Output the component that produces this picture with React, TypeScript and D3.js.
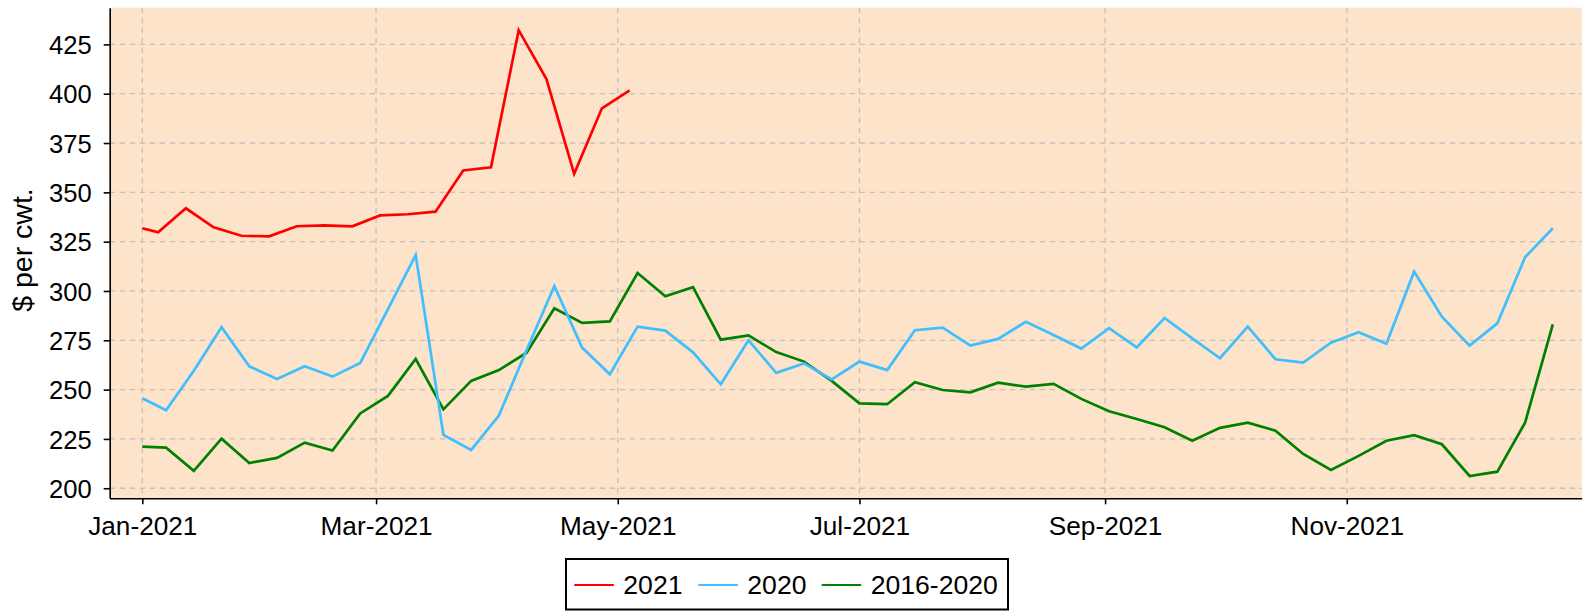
import React, { useEffect, useRef } from "react";
import * as d3 from "d3";

// weekly prices, $ per cwt.
const dates2021: string[] = [
  "2021-01-01", "2021-01-05", "2021-01-12", "2021-01-19", "2021-01-26",
  "2021-02-02", "2021-02-09", "2021-02-16", "2021-02-23", "2021-03-02",
  "2021-03-09", "2021-03-16", "2021-03-23", "2021-03-30", "2021-04-06",
  "2021-04-13", "2021-04-20", "2021-04-27", "2021-05-04",
];
const values2021: number[] = [
  331.8, 329.7, 341.9, 332.3, 328.0, 327.7, 332.8, 333.3, 332.8, 338.3,
  338.9, 340.2, 361.1, 362.7, 432.2, 407.4, 359.4, 392.6, 401.7,
];

const datesPrior: string[] = [
  "2021-01-01", "2021-01-07", "2021-01-14", "2021-01-21", "2021-01-28",
  "2021-02-04", "2021-02-11", "2021-02-18", "2021-02-25", "2021-03-04",
  "2021-03-11", "2021-03-18", "2021-03-25", "2021-04-01", "2021-04-08",
  "2021-04-15", "2021-04-22", "2021-04-29", "2021-05-06", "2021-05-13",
  "2021-05-20", "2021-05-27", "2021-06-03", "2021-06-10", "2021-06-17",
  "2021-06-24", "2021-07-01", "2021-07-08", "2021-07-15", "2021-07-22",
  "2021-07-29", "2021-08-05", "2021-08-12", "2021-08-19", "2021-08-26",
  "2021-09-02", "2021-09-09", "2021-09-16", "2021-09-23", "2021-09-30",
  "2021-10-07", "2021-10-14", "2021-10-21", "2021-10-28", "2021-11-04",
  "2021-11-11", "2021-11-18", "2021-11-25", "2021-12-02", "2021-12-09",
  "2021-12-16", "2021-12-23",
];
const values2020: number[] = [
  245.6, 239.5, 259.6, 281.6, 261.8, 255.4, 261.8, 256.6, 263.5, 290.8,
  318.2, 227.0, 219.4, 236.8, 270.1, 302.5, 271.3, 257.8, 281.9, 279.9,
  268.9, 252.7, 275.0, 258.5, 263.3, 255.2, 264.2, 259.9, 280.1, 281.4,
  272.3, 275.7, 284.4, 277.7, 270.8, 281.2, 271.4, 286.3, 276.0, 265.9,
  281.9, 265.4, 263.7, 273.8, 279.1, 273.3, 309.8, 287.0, 272.3, 283.6,
  317.1, 331.8,
];
const values2016to2020: number[] = [
  221.1, 220.6, 208.8, 225.1, 212.8, 215.4, 223.1, 219.1, 237.9, 246.8,
  265.5, 240.0, 254.4, 259.9, 268.7, 291.2, 283.8, 284.6, 309.1, 297.3,
  301.9, 275.3, 277.5, 269.0, 264.2, 254.4, 243.0, 242.6, 253.7, 249.8,
  248.6, 253.5, 251.5, 252.9, 245.3, 239.0, 235.1, 230.9, 224.1, 230.6,
  233.2, 229.2, 217.4, 209.3, 216.4, 224.1, 226.9, 222.3, 206.2, 208.4,
  233.2, 283.1,
];

const yTicks: number[] = [200, 225, 250, 275, 300, 325, 350, 375, 400, 425];
const xTicks: string[] = ["2021-01-01", "2021-03-01", "2021-05-01", "2021-07-01", "2021-09-01", "2021-11-01"];
const seriesNames: string[] = ["2021", "2020", "2016-2020"];
const seriesColors: string[] = ["#ff0000", "#40bfff", "#008000"];

const App = () => {
  const svgRef = useRef<SVGSVGElement>(null);

  useEffect(() => {
    renderChart();
  }, []);

  const renderChart = () => {
    const svg = d3.select(svgRef.current);
    svg.selectAll("*").remove();

    const font = "'Liberation Sans', Arial, sans-serif";
    const left = 109.7, right = 1581.7, top = 7.7, bottom = 498.3;
    const parse = (s: string) => new Date(s + "T00:00:00Z");

    const x = d3
      .scaleUtc()
      .domain([new Date("2020-12-23T18:30:00Z"), new Date("2021-12-30T07:00:00Z")])
      .range([left, right]);
    const y = d3.scaleLinear().domain([194.9, 443.6]).range([bottom, top]);

    // plot background
    svg
      .append("rect")
      .attr("x", left)
      .attr("y", top)
      .attr("width", right - left)
      .attr("height", bottom - top)
      .attr("fill", "#fde3ca");

    // dashed grid
    const grid = svg.append("g").attr("stroke", "#c4c0bc").attr("stroke-width", 1.3).attr("stroke-dasharray", "5.5,4.5");
    grid
      .selectAll(".hgrid")
      .data(yTicks)
      .enter()
      .append("line")
      .attr("x1", left)
      .attr("x2", right)
      .attr("y1", (d) => y(d))
      .attr("y2", (d) => y(d));
    grid
      .selectAll(".vgrid")
      .data(xTicks)
      .enter()
      .append("line")
      .attr("x1", (d) => x(parse(d)))
      .attr("x2", (d) => x(parse(d)))
      .attr("y1", top)
      .attr("y2", bottom);

    // lines
    const line = d3
      .line<[Date, number]>()
      .x((d) => x(d[0]))
      .y((d) => y(d[1]));
    const series: [Date, number][][] = [
      dates2021.map((d, i) => [parse(d), values2021[i]]),
      datesPrior.map((d, i) => [parse(d), values2020[i]]),
      datesPrior.map((d, i) => [parse(d), values2016to2020[i]]),
    ];
    // draw 2016-2020 first, then 2020, then 2021 on top
    [2, 1, 0].forEach((i) => {
      svg
        .append("path")
        .datum(series[i])
        .attr("fill", "none")
        .attr("stroke", seriesColors[i])
        .attr("stroke-width", 2.7)
        .attr("stroke-linejoin", "miter")
        .attr("d", line);
    });

    // axes
    const yAxis = svg
      .append("g")
      .attr("transform", `translate(${left},0)`)
      .call(d3.axisLeft(y).tickValues(yTicks).tickSize(6).tickSizeOuter(0).tickPadding(12).tickFormat(d3.format("d")));
    const xAxis = svg
      .append("g")
      .attr("transform", `translate(0,${bottom})`)
      .call(
        d3
          .axisBottom(x)
          .tickValues(xTicks.map(parse))
          .tickSize(6)
          .tickSizeOuter(0)
          .tickPadding(12.5)
          .tickFormat((d) => d3.utcFormat("%b-%Y")(d as Date))
      );
    [yAxis, xAxis].forEach((a) => {
      a.select(".domain").attr("stroke", "#000").attr("stroke-width", 1.6);
      a.selectAll(".tick line").attr("stroke", "#000").attr("stroke-width", 1.6);
      a.selectAll(".tick text").attr("fill", "#000").style("font-family", font);
    });
    yAxis.selectAll(".tick text").attr("dy", "0.36em").style("font-size", "25.6px");
    xAxis.selectAll(".tick text").style("font-size", "26.2px");

    // y axis title
    svg
      .append("text")
      .attr("transform", "translate(31.5,250) rotate(-90)")
      .attr("text-anchor", "middle")
      .style("font-family", font)
      .style("font-size", "28.5px")
      .text("$ per cwt.");

    // legend
    const legend = svg.append("g");
    legend
      .append("rect")
      .attr("x", 566)
      .attr("y", 559)
      .attr("width", 442)
      .attr("height", 50.5)
      .attr("fill", "#fff")
      .attr("stroke", "#000")
      .attr("stroke-width", 2);
    const itemX = [574.3, 698.3, 821.7];
    seriesNames.forEach((name, i) => {
      legend
        .append("line")
        .attr("x1", itemX[i])
        .attr("x2", itemX[i] + 39.5)
        .attr("y1", 585)
        .attr("y2", 585)
        .attr("stroke", seriesColors[i])
        .attr("stroke-width", 2.2);
      legend
        .append("text")
        .attr("x", itemX[i] + 49)
        .attr("y", 594)
        .style("font-family", font)
        .style("font-size", "26.6px")
        .text(name);
    });
  };

  return (
    <svg
      ref={svgRef}
      width={1591}
      height={611}
      style={{ position: "absolute", left: 0, top: 0, background: "#fff" }}
    ></svg>
  );
};

export default App;
